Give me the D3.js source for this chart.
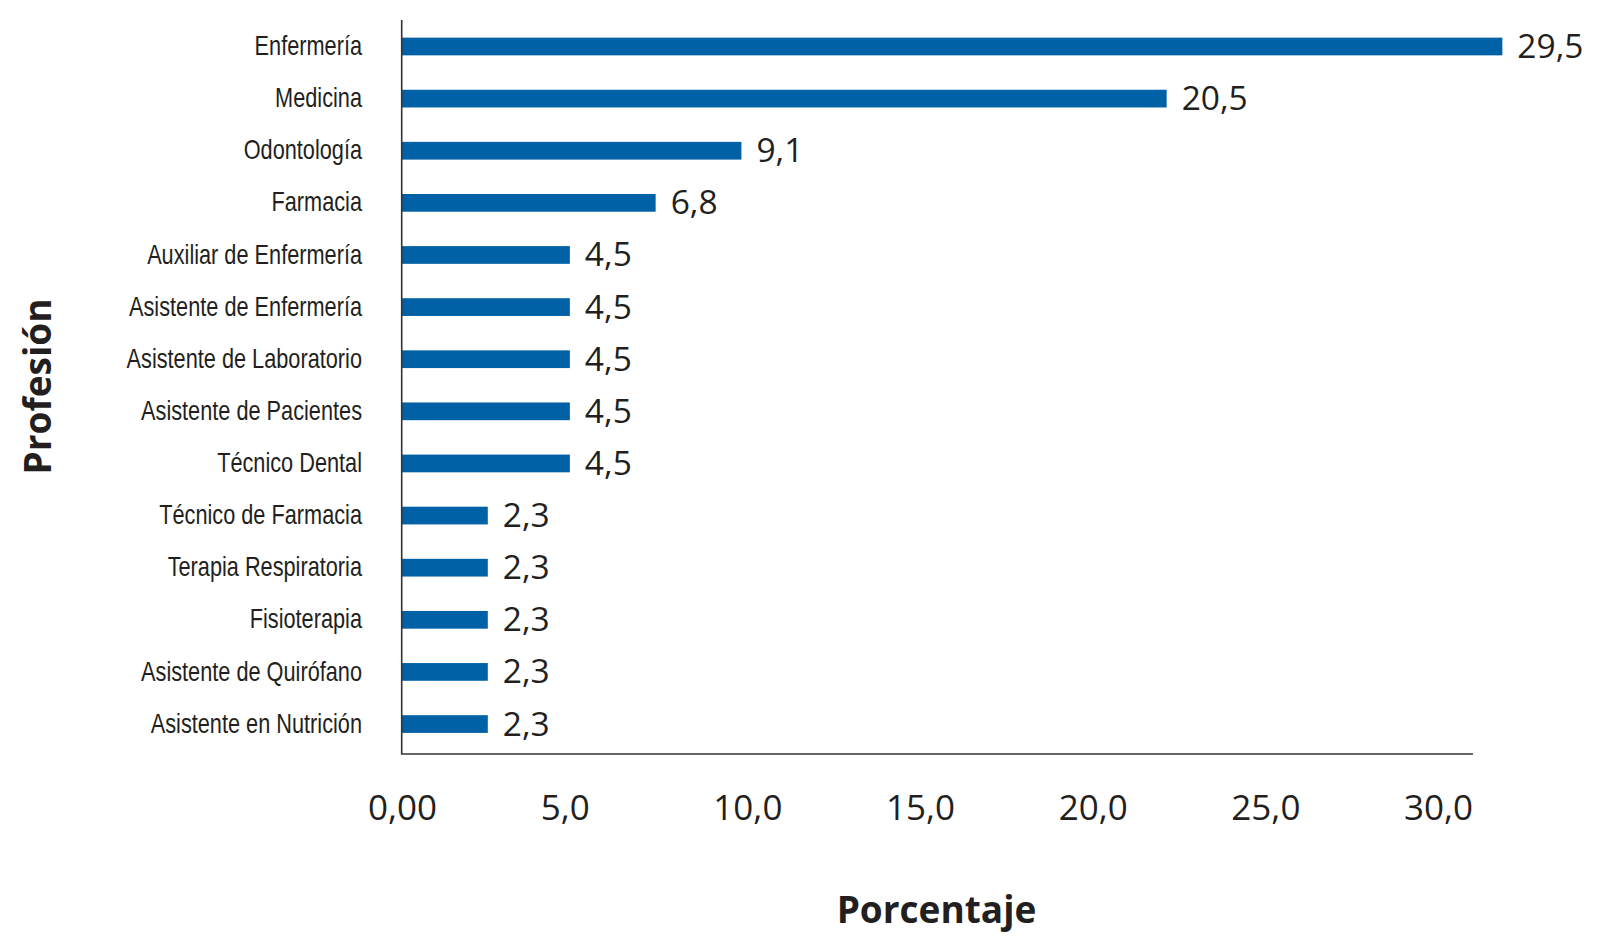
<!DOCTYPE html>
<html>
<head>
<meta charset="utf-8">
<script src="https://cdn.jsdelivr.net/npm/d3@7"></script>
<style>
  html, body { margin: 0; padding: 0; background: #ffffff; }
  svg { display: block; }
</style>
</head>
<body>
<svg id="chart" width="1597" height="947"></svg>
<script>
// ---- data ----
const categories = [
  "Enfermería", "Medicina", "Odontología", "Farmacia",
  "Auxiliar de Enfermería", "Asistente de Enfermería", "Asistente de Laboratorio",
  "Asistente de Pacientes", "Técnico Dental", "Técnico de Farmacia",
  "Terapia Respiratoria", "Fisioterapia", "Asistente de Quirófano", "Asistente en Nutrición"
];
const values = [29.5, 20.5, 9.1, 6.8, 4.5, 4.5, 4.5, 4.5, 4.5, 2.3, 2.3, 2.3, 2.3, 2.3];
const valueLabels = ["29,5", "20,5", "9,1", "6,8", "4,5", "4,5", "4,5", "4,5", "4,5", "2,3", "2,3", "2,3", "2,3", "2,3"];
const tickValues = [0, 5, 10, 15, 20, 25, 30];
const tickLabels = ["0,00", "5,0", "10,0", "15,0", "20,0", "25,0", "30,0"];
const xTitle = "Porcentaje";
const yTitle = "Profesión";

// ---- layout ----
const svg = d3.select("#chart");
const textColor = "#231f20";
const barColor = "#0061a6";
const narrowBase = "'Liberation Sans', Arial, sans-serif";
const sans = "'Open Sans', 'Noto Sans', sans-serif";
const narrowFactor = 0.79;

const axisX0 = 401.7, axisXEnd = 1473, axisYTop = 20, axisYBottom = 754;

// bar scale
const x = d3.scaleLinear().domain([0, 30]).range([402, 1521]);
// tick-label scale (labels left-aligned as in the source)
const xTicks = d3.scaleLinear().domain([0, 30]).range([367.5, 1403.5]);

const y = d3.scaleBand()
  .domain(categories)
  .range([20.44, 750.1])
  .paddingInner(0.66)
  .paddingOuter(0.33);

// bars
svg.append("g").selectAll("rect")
  .data(values)
  .join("rect")
  .attr("x", x(0))
  .attr("y", (d, i) => y(categories[i]))
  .attr("width", d => x(d) - x(0))
  .attr("height", y.bandwidth())
  .attr("fill", barColor);

// value labels
svg.append("g").selectAll("text")
  .data(values)
  .join("text")
  .attr("x", d => x(d) + 15)
  .attr("y", (d, i) => y(categories[i]) + y.bandwidth() / 2 + 11.5)
  .attr("font-family", sans)
  .attr("font-size", 33.5)
  .attr("fill", textColor)
  .text((d, i) => valueLabels[i]);

// category labels (condensed look via horizontal scaling)
svg.append("g").selectAll("text")
  .data(categories)
  .join("text")
  .attr("transform", d => `translate(362, ${y(d) + y.bandwidth() / 2 + 8.6}) scale(${narrowFactor}, 1.03)`)
  .attr("text-anchor", "end")
  .attr("font-family", narrowBase)
  .attr("font-size", 27.5)
  .attr("fill", textColor)
  .text(d => d);

// axis lines
svg.append("line")
  .attr("x1", axisX0).attr("x2", axisX0)
  .attr("y1", axisYTop).attr("y2", axisYBottom)
  .attr("stroke", "#333").attr("stroke-width", 1.6);
svg.append("line")
  .attr("x1", axisX0 - 0.8).attr("x2", axisXEnd)
  .attr("y1", axisYBottom).attr("y2", axisYBottom)
  .attr("stroke", "#333").attr("stroke-width", 1.6);

// x tick labels via d3 axis
const xAxis = d3.axisBottom(xTicks)
  .tickValues(tickValues)
  .tickSize(0)
  .tickPadding(0)
  .tickFormat((d, i) => tickLabels[i]);
const gx = svg.append("g")
  .attr("transform", "translate(0, 819.5)")
  .call(xAxis);
gx.select(".domain").remove();
gx.selectAll("text")
  .attr("text-anchor", "start")
  .attr("dy", null)
  .attr("y", 0)
  .attr("font-family", sans)
  .attr("font-size", 35)
  .attr("fill", textColor);
gx.attr("font-family", null).attr("font-size", null);

// axis titles
svg.append("text")
  .attr("x", 936.5)
  .attr("y", 923)
  .attr("text-anchor", "middle")
  .attr("font-family", sans)
  .attr("font-weight", "bold")
  .attr("font-size", 37)
  .attr("fill", textColor)
  .text(xTitle);

svg.append("text")
  .attr("transform", "translate(51, 386.5) rotate(-90)")
  .attr("text-anchor", "middle")
  .attr("font-family", sans)
  .attr("font-weight", "bold")
  .attr("font-size", 37)
  .attr("fill", textColor)
  .text(yTitle);
</script>
</body>
</html>
